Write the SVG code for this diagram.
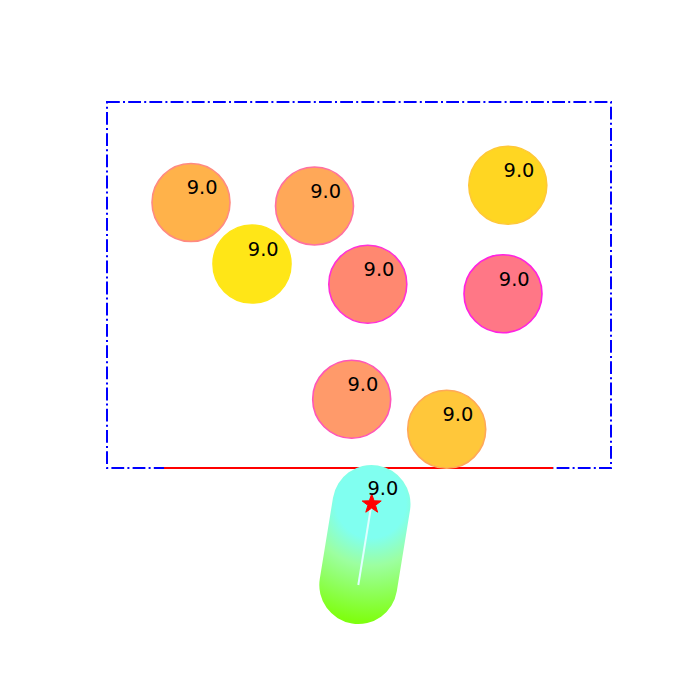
<svg xmlns="http://www.w3.org/2000/svg" width="700" height="700" viewBox="0 0 700 700">
<style>
.lbl{font-family:"DejaVu Sans","Liberation Sans",sans-serif;font-size:19.4px;fill:#000}
.c{stroke-width:1.6}
</style>
<defs>
<radialGradient id="capg" gradientUnits="userSpaceOnUse" cx="371" cy="503" r="125">
<stop offset="0" stop-color="#80FFF0"/>
<stop offset="0.28" stop-color="#80FFF0"/>
<stop offset="0.5" stop-color="#9CFFA0"/>
<stop offset="0.95" stop-color="#7FFF10"/>
</radialGradient>
</defs>
<rect width="700" height="700" fill="#fff"/>
<g id="boundary">
<rect x="107" y="102" width="504" height="366" fill="none" stroke="#0000FF" stroke-width="2" stroke-dasharray="12.8 3.2 2 3.2"/>
<line x1="164" y1="468" x2="553" y2="468" stroke="#FF0000" stroke-width="2"/>
</g>
<g id="n1"><circle class="c" cx="191" cy="202.5" r="39" fill="#FFB24A" stroke="#FF8A80"/><text class="lbl" x="186.7" y="194">9.0</text></g>
<g id="n2"><circle class="c" cx="314.5" cy="206" r="39" fill="#FFA858" stroke="#FF70A0"/><text class="lbl" x="310.2" y="198">9.0</text></g>
<g id="n3"><circle class="c" cx="252" cy="264" r="39" fill="#FFE617" stroke="#FFE617"/><text class="lbl" x="247.8" y="256">9.0</text></g>
<g id="n4"><circle class="c" cx="367.8" cy="284.2" r="39" fill="#FF8870" stroke="#FF30D8"/><text class="lbl" x="363.6" y="276">9.0</text></g>
<g id="n5"><circle class="c" cx="507.8" cy="185.3" r="39" fill="#FFD622" stroke="#FFC838"/><text class="lbl" x="503.6" y="177">9.0</text></g>
<g id="n6"><circle class="c" cx="503" cy="293.7" r="39" fill="#FF7786" stroke="#FF22E0"/><text class="lbl" x="498.8" y="285.5">9.0</text></g>
<g id="n7"><circle class="c" cx="351.7" cy="399.2" r="39" fill="#FF9A6A" stroke="#FF55B8"/><text class="lbl" x="347.5" y="391">9.0</text></g>
<g id="n8"><circle class="c" cx="446.7" cy="429.3" r="39" fill="#FFC73A" stroke="#FFA858"/><text class="lbl" x="442.5" y="421">9.0</text></g>
<g id="capsule">
<path d="M371.5,504 L358.3,585" stroke="url(#capg)" stroke-width="78" stroke-linecap="round" fill="none"/>
<line x1="371.5" y1="504" x2="358.3" y2="585" stroke="#E0FFFF" stroke-width="2"/>
<polygon points="371.7,494 374.1,500.8 381.2,501 375.5,505.3 377.6,512.2 371.7,508.1 365.8,512.2 367.9,505.3 362.2,501 369.3,500.8" fill="#FF0000" stroke="#FF0000" stroke-width="1"/>
<text class="lbl" x="367.4" y="495">9.0</text>
</g>
</svg>
